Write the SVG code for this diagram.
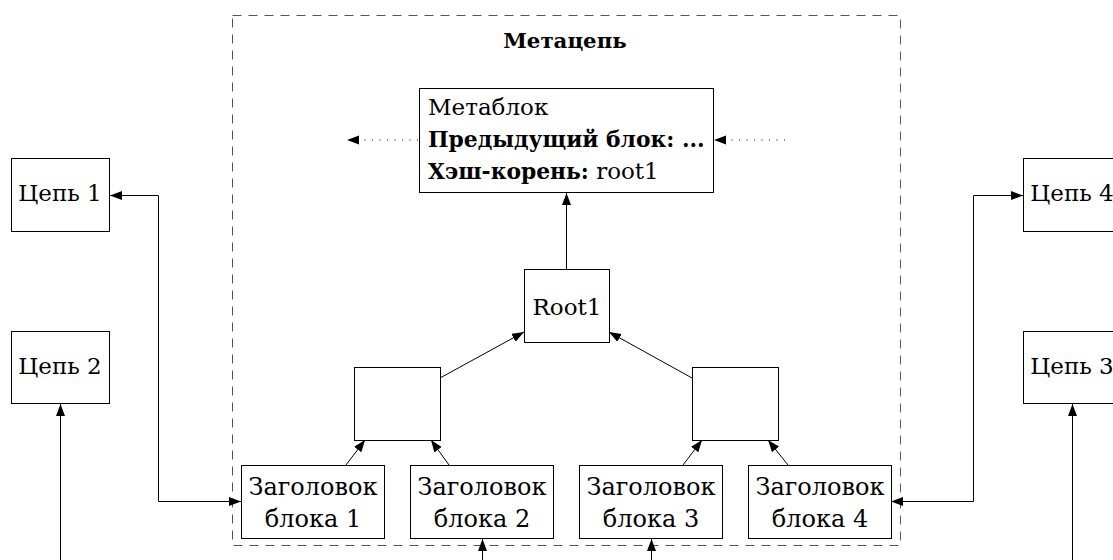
<svg xmlns="http://www.w3.org/2000/svg" width="1113" height="560" viewBox="0 0 1113 560">
  <style>
    .box { fill: #fff; stroke: #000; stroke-width: 1; }
    .frame { fill: none; stroke: #555; stroke-width: 1; stroke-dasharray: 9 7; }
    .edge { fill: none; stroke: #000; stroke-width: 1; }
    .dotted { fill: none; stroke: #000; stroke-width: 1; stroke-dasharray: 1 6.5; }
    text { font-family: "DejaVu Serif", "Liberation Serif", serif; font-size: 23px; fill: #000; }
    .c { text-anchor: middle; }
    .b { font-weight: bold; font-size: 21.8px; }
    .big { font-size: 24px; }
  </style>
  <defs>
    <marker id="arrow" markerUnits="userSpaceOnUse" markerWidth="13" markerHeight="10" refX="12" refY="4.5" orient="auto-start-reverse">
      <path d="M0,0 L12,4.5 L0,9 Z" fill="#000"/>
    </marker>
  </defs>

  <!-- metachain frame -->
  <g id="metachain">
    <rect class="frame" x="232.5" y="15.5" width="668" height="530"/>
    <text class="c b" x="565" y="48" style="font-size:21.3px">Метацепь</text>
  </g>

  <g id="connectors">
    <!-- dotted links to neighbouring metablocks -->
    <path class="dotted" d="M418,140 H347" marker-end="url(#arrow)"/>
    <path class="dotted" d="M785,140 H714" marker-end="url(#arrow)"/>
    <!-- merkle tree -->
    <path class="edge" d="M566.5,269 V193" marker-end="url(#arrow)"/>
    <path class="edge" d="M440,378 L524,332" marker-end="url(#arrow)"/>
    <path class="edge" d="M692,378 L609,332" marker-end="url(#arrow)"/>
    <path class="edge" d="M346,465 L365,440" marker-end="url(#arrow)"/>
    <path class="edge" d="M449,465 L431,440" marker-end="url(#arrow)"/>
    <path class="edge" d="M683,465 L702,440" marker-end="url(#arrow)"/>
    <path class="edge" d="M788,465 L768,440" marker-end="url(#arrow)"/>
    <!-- links to chains -->
    <path class="edge" d="M110,195.5 H158.5 V501.5 H241" marker-start="url(#arrow)" marker-end="url(#arrow)"/>
    <path class="edge" d="M891,501.5 H973.5 V195.5 H1023" marker-start="url(#arrow)" marker-end="url(#arrow)"/>
    <path class="edge" d="M60.5,560 V404" marker-end="url(#arrow)"/>
    <path class="edge" d="M1072.5,560 V404" marker-end="url(#arrow)"/>
    <path class="edge" d="M482.5,560 V539" marker-end="url(#arrow)"/>
    <path class="edge" d="M651.5,560 V539" marker-end="url(#arrow)"/>
  </g>

  <g id="metablock">
    <rect class="box" x="419.5" y="88.5" width="294" height="104"/>
    <text x="428" y="115">Метаблок</text>
    <text class="b" x="428" y="147">Предыдущий блок: ...</text>
    <text x="428" y="179"><tspan class="b">Хэш-корень:</tspan> root1</text>
  </g>

  <g id="root1">
    <rect class="box" x="524.5" y="269.5" width="85" height="73"/>
    <text class="c" x="567" y="315">Root1</text>
  </g>

  <g id="hash-left">
    <rect class="box" x="354.5" y="367.5" width="86" height="73"/>
  </g>
  <g id="hash-right">
    <rect class="box" x="692.5" y="367.5" width="86" height="73"/>
  </g>

  <g id="header-1">
    <rect class="box" x="241.5" y="465.5" width="143" height="73"/>
    <text class="c big" x="313" y="495">Заголовок</text>
    <text class="c big" x="313" y="527">блока 1</text>
  </g>
  <g id="header-2">
    <rect class="box" x="410.5" y="465.5" width="143" height="73"/>
    <text class="c big" x="482" y="495">Заголовок</text>
    <text class="c big" x="482" y="527">блока 2</text>
  </g>
  <g id="header-3">
    <rect class="box" x="579.5" y="465.5" width="143" height="73"/>
    <text class="c big" x="651" y="495">Заголовок</text>
    <text class="c big" x="651" y="527">блока 3</text>
  </g>
  <g id="header-4">
    <rect class="box" x="748.5" y="465.5" width="143" height="73"/>
    <text class="c big" x="820" y="495">Заголовок</text>
    <text class="c big" x="820" y="527">блока 4</text>
  </g>

  <g id="chain-1">
    <rect class="box" x="11.5" y="158.5" width="98" height="73"/>
    <text class="c" x="60" y="201">Цепь 1</text>
  </g>
  <g id="chain-2">
    <rect class="box" x="11.5" y="331.5" width="98" height="72"/>
    <text class="c" x="60" y="374">Цепь 2</text>
  </g>
  <g id="chain-4">
    <rect class="box" x="1023.5" y="158.5" width="98" height="73"/>
    <text class="c" x="1072" y="201">Цепь 4</text>
  </g>
  <g id="chain-3">
    <rect class="box" x="1023.5" y="331.5" width="98" height="72"/>
    <text class="c" x="1072" y="374">Цепь 3</text>
  </g>
</svg>
